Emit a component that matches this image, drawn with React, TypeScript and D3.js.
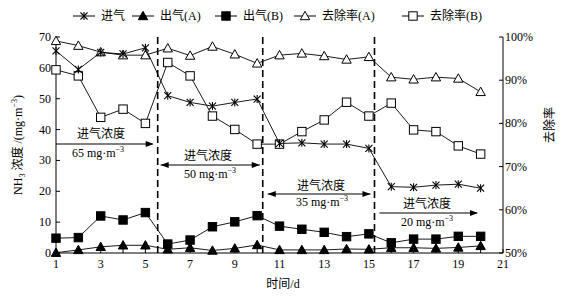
import React from "react";
import * as d3 from "d3";

const days = [1,2,3,4,5,6,7,8,9,10,11,12,13,14,15,16,17,18,19,20];
const inletConc = [65.5,59.5,65,64.5,66.5,51,48.8,47.6,48.8,49.9,35.5,35.7,35.3,35.3,33.9,21.5,21.3,22,22.3,21];
const outletA = [0.1,1,2,2.5,2.5,1.2,1.7,0.8,1.5,2.6,1,1,1,1.3,1.2,1.7,1.7,1.5,1.8,2.3];
const outletB = [4.8,5,12,10.7,13.1,2.9,4.2,8.5,10.1,12.1,8.7,7.7,6.7,5.3,6.2,3.3,4.5,4.5,5.4,5.4];
const removalA = [99.1,98,96.5,95.8,95.8,97.4,95.7,97.8,96,93.9,95.8,96.2,95.6,94.8,95.4,90.7,90.2,90.7,90.4,87.3];
const removalB = [92.4,91,81.4,83.3,80,94.1,91,81.7,78.6,75.2,75.2,78.1,80.8,84.9,81.7,84.7,78.5,78.1,74.8,72.9];
const xTickLabels = [1,3,5,7,9,11,13,15,17,19,21];
const leftTicks = [0,10,20,30,40,50,60,70];
const rightTicks = [50,60,70,80,90,100];
const phaseBounds = [5.55, 10.25, 15.25];
const phaseLabels = ["65 mg·m", "50 mg·m", "35 mg·m", "20 mg·m"];

const FONT = "'Liberation Serif', 'Times New Roman', 'Noto Sans CJK SC', serif";

const x = d3.scaleLinear().domain([1, 21]).range([56, 503]);
const yL = d3.scaleLinear().domain([0, 70]).range([253, 37]);
const yR = d3.scaleLinear().domain([50, 100]).range([253, 37]);

type MarkerKind = "star" | "triFill" | "sqFill" | "triOpen" | "sqOpen";

function Marker({ kind, cx, cy }: { kind: MarkerKind; cx: number; cy: number }) {
  const s = 4.2;
  if (kind === "star") {
    return (
      <g stroke="#000" strokeWidth={1.1}>
        <line x1={cx - 3.5} y1={cy - 3.5} x2={cx + 3.5} y2={cy + 3.5} />
        <line x1={cx - 3.5} y1={cy + 3.5} x2={cx + 3.5} y2={cy - 3.5} />
        <line x1={cx} y1={cy - 4} x2={cx} y2={cy + 4} />
      </g>
    );
  }
  if (kind === "triFill" || kind === "triOpen") {
    const pts = `${cx},${cy - s - 0.5} ${cx - s - 0.5},${cy + s - 0.5} ${cx + s + 0.5},${cy + s - 0.5}`;
    return <polygon points={pts} fill={kind === "triFill" ? "#000" : "#fff"} stroke="#000" strokeWidth={1} />;
  }
  return (
    <rect x={cx - s} y={cy - s} width={2 * s} height={2 * s}
      fill={kind === "sqFill" ? "#000" : "#fff"} stroke="#000" strokeWidth={1} />
  );
}

function Series({ vals, scale, kind }: { vals: number[]; scale: d3.ScaleLinear<number, number>; kind: MarkerKind }) {
  const line = d3.line<number>().x((_, i) => x(days[i])).y((v) => scale(v));
  return (
    <g>
      <path d={line(vals) || ""} fill="none" stroke="#000" strokeWidth={0.9} />
      {vals.map((v, i) => (
        <Marker key={i} kind={kind} cx={x(days[i])} cy={scale(v)} />
      ))}
    </g>
  );
}

function ArrowHead({ x0, y0, dir }: { x0: number; y0: number; dir: 1 | -1 }) {
  return <polygon points={`${x0},${y0} ${x0 - dir * 8},${y0 - 3} ${x0 - dir * 8},${y0 + 3}`} fill="#000" />;
}

function Unit({ cx, cy, label }: { cx: number; cy: number; label: string }) {
  return (
    <text x={cx} y={cy} textAnchor="middle" fontSize={12} fontFamily={FONT}>
      {label}
      <tspan dy={-5} fontSize={8}>−3</tspan>
    </text>
  );
}

export default function App() {
  const legendItems: { kind: MarkerKind; label: string; x: number }[] = [
    { kind: "star", label: "进气", x: 73 },
    { kind: "triFill", label: "出气(A)", x: 132 },
    { kind: "sqFill", label: "出气(B)", x: 215 },
    { kind: "triOpen", label: "去除率(A)", x: 294 },
    { kind: "sqOpen", label: "去除率(B)", x: 402 },
  ];
  const dayTicks = d3.range(1, 22);
  return (
    <svg width={563} height={298} style={{ position: "absolute", left: 0, top: 0, background: "#fff" }}
      fontFamily={FONT}>
      <rect width={563} height={298} fill="#fff" />
      {/* legend */}
      {legendItems.map((it, i) => (
        <g key={i}>
          <line x1={it.x} x2={it.x + 22} y1={16} y2={16} stroke="#000" strokeWidth={1} />
          <Marker kind={it.kind} cx={it.x + 11} cy={16} />
          <text x={it.x + 28} y={20} fontSize={12}>{it.label}</text>
        </g>
      ))}
      {/* axes */}
      <line x1={x(1)} x2={x(1)} y1={37} y2={253} stroke="#000" />
      <line x1={x(21)} x2={x(21)} y1={37} y2={253} stroke="#000" />
      <line x1={x(1)} x2={x(21)} y1={253} y2={253} stroke="#000" />
      {leftTicks.map((t) => (
        <g key={t}>
          <line x1={x(1)} x2={x(1) + 4} y1={yL(t)} y2={yL(t)} stroke="#000" />
          <text x={x(1) - 5} y={yL(t) + 4} textAnchor="end" fontSize={12}>{t}</text>
        </g>
      ))}
      {rightTicks.map((t) => (
        <g key={t}>
          <line x1={x(21)} x2={x(21) - 4} y1={yR(t)} y2={yR(t)} stroke="#000" />
          <text x={x(21) + 2} y={yR(t) + 4} fontSize={12}>{t}%</text>
        </g>
      ))}
      {dayTicks.map((t) => (
        <line key={t} x1={x(t)} x2={x(t)} y1={253} y2={249} stroke="#000" />
      ))}
      {xTickLabels.map((t) => (
        <text key={t} x={x(t)} y={268} textAnchor="middle" fontSize={12}>{t}</text>
      ))}
      <text x={283} y={288} textAnchor="middle" fontSize={12}>时间/d</text>
      <text transform="translate(22,145) rotate(-90)" textAnchor="middle" fontSize={12}>
        NH<tspan fontSize={8} dy={3}>3</tspan><tspan dy={-3}> 浓度 /(mg·m</tspan><tspan fontSize={8} dy={-5}>−3</tspan><tspan dy={5}>)</tspan>
      </text>
      <text transform="translate(554,125) rotate(-90)" textAnchor="middle" fontSize={12}>去除率</text>
      {/* phase dashed lines */}
      {phaseBounds.map((b) => (
        <line key={b} x1={x(b)} x2={x(b)} y1={37} y2={253} stroke="#000" strokeWidth={1.6} strokeDasharray="7,4" />
      ))}
      {/* annotations */}
      <text x={101} y={138} textAnchor="middle" fontSize={12}>进气浓度</text>
      <line x1={x(1)} x2={x(phaseBounds[0]) - 5} y1={144} y2={144} stroke="#000" />
      <ArrowHead x0={x(phaseBounds[0]) - 4} y0={144} dir={1} />
      <Unit cx={98} cy={157} label={phaseLabels[0]} />

      <text x={208} y={160} textAnchor="middle" fontSize={12}>进气浓度</text>
      <line x1={x(phaseBounds[0]) + 3} x2={x(phaseBounds[1]) - 3} y1={165} y2={165} stroke="#000" />
      <ArrowHead x0={x(phaseBounds[0]) + 3} y0={165} dir={-1} />
      <ArrowHead x0={x(phaseBounds[1]) - 3} y0={165} dir={1} />
      <Unit cx={210} cy={178} label={phaseLabels[1]} />

      <text x={321} y={190} textAnchor="middle" fontSize={12}>进气浓度</text>
      <line x1={x(phaseBounds[1]) + 5} x2={x(phaseBounds[2]) - 4} y1={194} y2={194} stroke="#000" />
      <ArrowHead x0={x(phaseBounds[1]) + 5} y0={194} dir={-1} />
      <ArrowHead x0={x(phaseBounds[2]) - 4} y0={194} dir={1} />
      <Unit cx={322} cy={206} label={phaseLabels[2]} />

      <text x={427} y={208} textAnchor="middle" fontSize={12}>进气浓度</text>
      <line x1={x(phaseBounds[2]) + 5} x2={477} y1={213} y2={213} stroke="#000" />
      <ArrowHead x0={478} y0={213} dir={1} />
      <Unit cx={427} cy={226} label={phaseLabels[3]} />

      {/* series */}
      <Series vals={removalA} scale={yR} kind="triOpen" />
      <Series vals={removalB} scale={yR} kind="sqOpen" />
      <Series vals={inletConc} scale={yL} kind="star" />
      <Series vals={outletB} scale={yL} kind="sqFill" />
      <Series vals={outletA} scale={yL} kind="triFill" />
    </svg>
  );
}
